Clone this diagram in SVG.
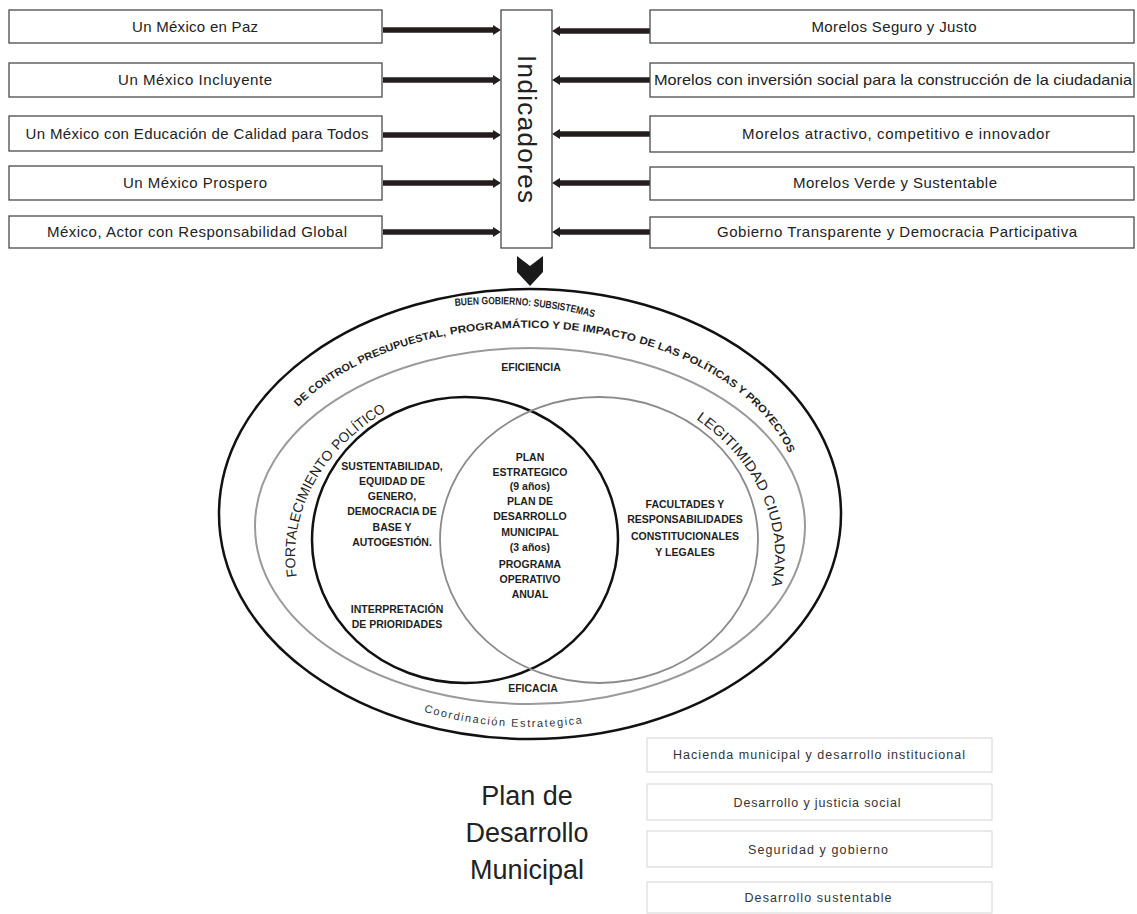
<svg xmlns="http://www.w3.org/2000/svg" width="1137" height="914" viewBox="0 0 1137 914">
<style>
.box{fill:#fff;stroke:#4a4a4a;stroke-width:1.3}
.sbox{fill:#fff;stroke:#d4d4d4;stroke-width:1}
.t{font-family:"Liberation Sans",Arial,sans-serif;font-size:15px;fill:#222;text-anchor:middle}
.st{font-family:"Liberation Sans",Arial,sans-serif;font-size:12.5px;fill:#333;text-anchor:middle}
.b{font-family:"Liberation Sans",Arial,sans-serif;font-size:10.5px;font-weight:bold;fill:#1e1e1e;text-anchor:middle}
.arc{font-family:"Liberation Sans",Arial,sans-serif;font-weight:bold;font-size:10.5px;fill:#1e1e1e}
.ring{font-family:"Liberation Sans",Arial,sans-serif;font-size:14px;fill:#222}
.conn{stroke:#241c1c;stroke-width:5.5;fill:none;marker-end:url(#ah)}
</style>
<defs>
<marker id="ah" viewBox="0 0 8 10" markerUnits="userSpaceOnUse" markerWidth="8" markerHeight="10" refX="3" refY="5" orient="auto">
<path d="M0,0 L8,5 L0,10 z" fill="#241c1c"/>
</marker>
<path id="p1" d="M 455,306 A 280 195 0 0 1 603,320" fill="none"/>
<path id="p2" d="M 298,407 A 272 172 0 0 1 790,456" fill="none"/>
<path id="pL" d="M 298.6,586.6 A 235 182 0 0 1 405.5,400.7" fill="none"/>
<path id="pR" d="M 680.8,409.2 A 245 185 0 0 1 766.7,602.9" fill="none"/>
<path id="pC" d="M 400,703.7 A 285 212 0 0 0 640,710.5" fill="none"/>
</defs>
<rect width="1137" height="914" fill="#fff"/>

<g id="connectors">
<line class="conn" x1="383" y1="30" x2="496" y2="30"/>
<line class="conn" x1="383" y1="80" x2="496" y2="80"/>
<line class="conn" x1="383" y1="135" x2="496" y2="135"/>
<line class="conn" x1="383" y1="183" x2="496" y2="183"/>
<line class="conn" x1="383" y1="232" x2="496" y2="232"/>
<line class="conn" x1="650" y1="31" x2="557" y2="31"/>
<line class="conn" x1="650" y1="80" x2="557" y2="80"/>
<line class="conn" x1="650" y1="134" x2="557" y2="134"/>
<line class="conn" x1="650" y1="183" x2="557" y2="183"/>
<line class="conn" x1="650" y1="232" x2="557" y2="232"/>
<polygon points="517,256 530,266 543,256 543,272 530,286 517,272" fill="#1a1a1a"/>
</g>

<g id="n-l1"><rect class="box" x="9" y="10" width="373" height="33"/><text class="t" x="195" y="31.5" textLength="126">Un México en Paz</text></g>
<g id="n-l2"><rect class="box" x="9" y="63" width="373" height="34"/><text class="t" x="195" y="84.5" textLength="154">Un México Incluyente</text></g>
<g id="n-l3"><rect class="box" x="9" y="116" width="373" height="35"/><text class="t" x="197" y="138.5" textLength="343">Un México con Educación de Calidad para Todos</text></g>
<g id="n-l4"><rect class="box" x="9" y="166" width="373" height="34"/><text class="t" x="195" y="187.5" textLength="144">Un México Prospero</text></g>
<g id="n-l5"><rect class="box" x="9" y="216" width="373" height="32"/><text class="t" x="197" y="236.5" textLength="300">México, Actor con Responsabilidad Global</text></g>

<g id="n-ind"><rect class="box" x="501" y="10" width="51" height="238"/>
<text transform="translate(527,129) rotate(90)" x="0" y="9" font-family="Liberation Sans, Arial, sans-serif" font-size="26" fill="#222" text-anchor="middle" textLength="148">Indicadores</text></g>

<g id="n-r1"><rect class="box" x="650" y="10" width="484" height="33"/><text class="t" x="894" y="31.5" textLength="165">Morelos Seguro y Justo</text></g>
<g id="n-r2"><rect class="box" x="650" y="63" width="484" height="34"/><text class="t" x="893" y="84.5" textLength="478" lengthAdjust="spacingAndGlyphs">Morelos con inversión social para la construcción de la ciudadania</text></g>
<g id="n-r3"><rect class="box" x="650" y="116" width="484" height="36"/><text class="t" x="896" y="138.5" textLength="308">Morelos atractivo, competitivo e innovador</text></g>
<g id="n-r4"><rect class="box" x="650" y="167" width="484" height="33"/><text class="t" x="895" y="187.5" textLength="204">Morelos Verde y Sustentable</text></g>
<g id="n-r5"><rect class="box" x="650" y="217" width="484" height="31"/><text class="t" x="897" y="236.5" textLength="360">Gobierno Transparente y Democracia Participativa</text></g>

<g id="n-venn">
<ellipse cx="530" cy="514" rx="311" ry="225" fill="none" stroke="#111" stroke-width="2.5"/>
<ellipse cx="530" cy="526" rx="275" ry="178" fill="none" stroke="#9a9a9a" stroke-width="2"/>
<ellipse cx="465" cy="540" rx="153" ry="143" fill="none" stroke="#111" stroke-width="2.5"/>
<ellipse cx="599" cy="540" rx="159" ry="143" fill="none" stroke="#8a8a8a" stroke-width="1.8"/>
<text class="arc"><textPath href="#p1" textLength="140" lengthAdjust="spacingAndGlyphs">BUEN GOBIERNO: SUBSISTEMAS</textPath></text>
<text class="arc"><textPath href="#p2" textLength="167" lengthAdjust="spacingAndGlyphs">DE CONTROL PRESUPUESTAL,</textPath></text>
<text class="arc"><textPath href="#p2" startOffset="171" textLength="186" lengthAdjust="spacingAndGlyphs">PROGRAMÁTICO Y DE IMPACTO</textPath></text>
<text class="arc"><textPath href="#p2" startOffset="361" textLength="192" lengthAdjust="spacingAndGlyphs">DE LAS POLÍTICAS Y PROYECTOS</textPath></text>
<text class="ring"><textPath href="#pL" startOffset="10" textLength="132" lengthAdjust="spacingAndGlyphs">FORTALECIMIENTO</textPath></text>
<text class="ring"><textPath href="#pL" startOffset="147" textLength="63" lengthAdjust="spacingAndGlyphs">POLÍTICO</textPath></text>
<text class="ring"><textPath href="#pR" startOffset="18" textLength="99" lengthAdjust="spacingAndGlyphs">LEGITIMIDAD</textPath></text>
<text class="ring"><textPath href="#pR" startOffset="122" textLength="91" lengthAdjust="spacingAndGlyphs">CIUDADANA</textPath></text>
<text font-family="Liberation Sans, Arial, sans-serif" font-size="11" fill="#333"><textPath href="#pC" startOffset="25" textLength="160" lengthAdjust="spacing">Coordinación Estrategica</textPath></text>
<text class="b" x="531" y="371">EFICIENCIA</text>
<text class="b" x="533" y="692">EFICACIA</text>
<text class="b" x="392"><tspan x="392" y="470">SUSTENTABILIDAD,</tspan><tspan x="392" y="485">EQUIDAD DE</tspan><tspan x="392" y="500">GENERO,</tspan><tspan x="392" y="515">DEMOCRACIA DE</tspan><tspan x="392" y="531">BASE Y</tspan><tspan x="392" y="546">AUTOGESTIÓN.</tspan><tspan x="397" y="613">INTERPRETACIÓN</tspan><tspan x="397" y="628">DE PRIORIDADES</tspan></text>
<text class="b" x="530"><tspan x="530" y="461">PLAN</tspan><tspan x="530" y="476">ESTRATEGICO</tspan><tspan x="530" y="490">(9 años)</tspan><tspan x="530" y="505">PLAN DE</tspan><tspan x="530" y="520">DESARROLLO</tspan><tspan x="530" y="536">MUNICIPAL</tspan><tspan x="530" y="551">(3 años)</tspan><tspan x="530" y="568">PROGRAMA</tspan><tspan x="530" y="583">OPERATIVO</tspan><tspan x="530" y="598">ANUAL</tspan></text>
<text class="b" x="685"><tspan x="685" y="508">FACULTADES Y</tspan><tspan x="685" y="523">RESPONSABILIDADES</tspan><tspan x="685" y="540">CONSTITUCIONALES</tspan><tspan x="685" y="556">Y LEGALES</tspan></text>
</g>

<g id="n-title">
<text font-family="Liberation Sans, Arial, sans-serif" font-size="27" fill="#222" text-anchor="middle"><tspan x="527" y="805">Plan de</tspan><tspan x="527" y="842">Desarrollo</tspan><tspan x="527" y="879">Municipal</tspan></text>
</g>

<g id="n-b1"><rect class="sbox" x="647" y="738" width="345" height="34"/><text class="st" x="819" y="759" textLength="292">Hacienda municipal y desarrollo institucional</text></g>
<g id="n-b2"><rect class="sbox" x="647" y="784" width="345" height="36"/><text class="st" x="817" y="807" textLength="167">Desarrollo y justicia social</text></g>
<g id="n-b3"><rect class="sbox" x="647" y="831" width="345" height="36"/><text class="st" x="818" y="854" textLength="140">Seguridad y gobierno</text></g>
<g id="n-b4"><rect class="sbox" x="647" y="882" width="345" height="31"/><text class="st" x="818" y="902" textLength="147">Desarrollo sustentable</text></g>
</svg>
